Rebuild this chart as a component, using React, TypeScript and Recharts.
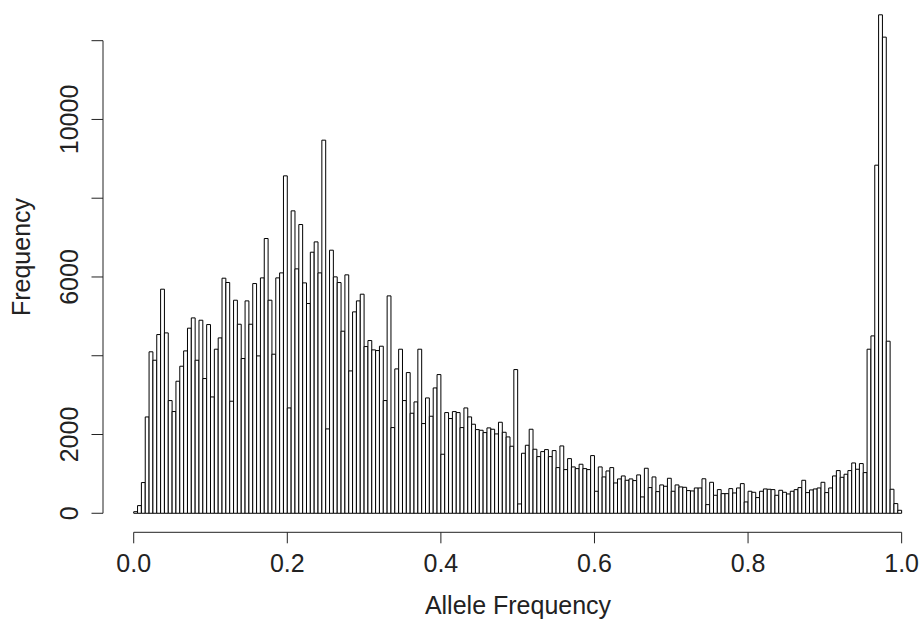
import React from 'react';
import { BarChart, Bar, XAxis, YAxis, ReferenceLine } from 'recharts';

// counts per 0.005-wide bin of allele frequency, from 0.000 up to 1.000
const counts = [
  40, 195, 780, 2446, 4100, 3886, 4538, 5690, 4580, 2862,
  2583, 3353, 3734, 4123, 4700, 4961, 3886, 4902, 3421, 4792,
  2954, 4166, 4453, 5969, 5860, 2845, 5410, 4800, 3929, 5393,
  4800, 5833, 3996, 5977, 6977, 5410, 4039, 5977, 6104, 8568,
  2675, 7679, 6206, 7332, 5850, 5326, 6629, 6891, 6104, 9474,
  2142, 6680, 6003, 5859, 4623, 6054, 3615, 5114, 5393, 5563,
  4233, 4386, 4149, 4132, 4242, 2862, 5520, 2176, 3666, 4166,
  2862, 3573, 2540, 2828, 4166, 2278, 2929, 2464, 3183, 3522,
  1499, 2557, 2405, 2582, 2557, 2176, 2675, 2447, 2261, 2125,
  2108, 2049, 2168, 2134, 2015, 2311, 2057, 1939, 1702, 3649,
  237, 1524, 1727, 2134, 1626, 1439, 1566, 1617, 1439, 1592,
  1160, 1710, 1109, 1388, 1177, 1134, 1245, 1134, 1109, 1465,
  559, 1177, 923, 1075, 1160, 770, 872, 948, 838, 872,
  830, 974, 415, 1143, 652, 923, 550, 720, 686, 889,
  559, 720, 669, 660, 576, 567, 643, 643, 876, 220,
  787, 457, 601, 499, 499, 626, 516, 643, 753, 288,
  559, 533, 398, 559, 618, 610, 601, 457, 584, 533,
  491, 559, 600, 652, 838, 525, 593, 618, 643, 787,
  525, 643, 948, 1084, 914, 991, 1084, 1278, 1118, 1262,
  1033, 4166, 4504, 8839, 12657, 12090, 4369, 610, 246, 76,
];

const binWidth = 0.005;
const xTicks = [0, 0.2, 0.4, 0.6, 0.8, 1.0];
const yTicks = [0, 2000, 4000, 6000, 8000, 10000, 12000];
const yLabelled = [0, 2000, 6000, 10000];

const data = counts.map((count, i) => ({ mid: (i + 0.5) * binWidth, count }));

const FONT = '"Liberation Sans", Arial, sans-serif';
const INK = '#222';

function YTick(props: any) {
  const { x, y, payload } = props;
  if (!yLabelled.includes(payload.value)) return null;
  return (
    <text
      x={x}
      y={y}
      transform={`rotate(-90 ${x} ${y})`}
      textAnchor="middle"
      fontFamily={FONT}
      fontSize={25}
      fill={INK}
    >
      {payload.value}
    </text>
  );
}

export default function App() {
  return (
    <div style={{ position: 'absolute', left: 0, top: 0, width: 924, height: 623, background: '#fff' }}>
      <BarChart
        width={924}
        height={623}
        data={data}
        margin={{ top: 1.3, right: 7, bottom: 30.7, left: 0 }}
      >
        <XAxis
          dataKey="mid"
          type="number"
          domain={[-0.04, 1.02]}
          allowDataOverflow
          ticks={xTicks}
          interval={0}
          tickFormatter={(v: number) => v.toFixed(1)}
          axisLine={false}
          tickLine={{ stroke: INK, strokeWidth: 1 }}
          tickSize={11}
          tickMargin={10.7}
          height={60}
          tick={{ fontFamily: FONT, fontSize: 25, fill: INK }}
        />
        <YAxis
          type="number"
          domain={[-483, 13000]}
          allowDataOverflow
          ticks={yTicks}
          interval={0}
          axisLine={false}
          tickLine={{ stroke: INK, strokeWidth: 1 }}
          tickSize={11.5}
          tickMargin={13.5}
          width={103}
          tick={<YTick />}
        />
        <ReferenceLine
          segment={[{ x: -0.04, y: 0 }, { x: -0.04, y: 12000 }]}
          stroke={INK}
          strokeWidth={1}
          ifOverflow="visible"
        />
        <ReferenceLine
          segment={[{ x: 0, y: -483 }, { x: 1, y: -483 }]}
          stroke={INK}
          strokeWidth={1}
          ifOverflow="visible"
        />
        <Bar
          dataKey="count"
          fill="#fff"
          stroke="#000"
          strokeWidth={1}
          barSize={3.83}
          isAnimationActive={false}
        />
      </BarChart>
      <svg
        width={924}
        height={623}
        style={{ position: 'absolute', left: 0, top: 0, pointerEvents: 'none' }}
      >
        <text x={518} y={614} textAnchor="middle" fontFamily={FONT} fontSize={25} fill={INK}>
          Allele Frequency
        </text>
        <text
          x={29.5}
          y={257}
          transform="rotate(-90 29.5 257)"
          textAnchor="middle"
          fontFamily={FONT}
          fontSize={25}
          fill={INK}
        >
          Frequency
        </text>
      </svg>
    </div>
  );
}
